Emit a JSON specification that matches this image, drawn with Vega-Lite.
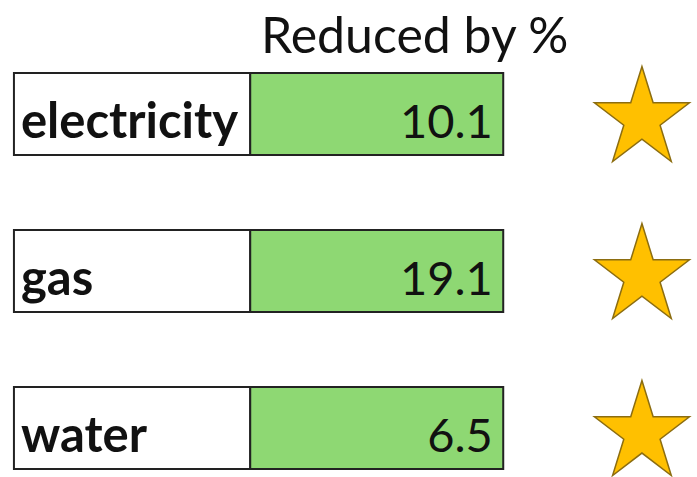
{
  "$schema": "https://vega.github.io/schema/vega-lite/v6.json",
  "width": 697,
  "height": 400,
  "padding": {"top": 12, "left": 0, "right": 0, "bottom": 0},
  "background": "white",
  "title": {"text": "Reduced by %", "fontSize": 50, "font": "Lato", "fontWeight": "normal", "anchor": "start", "dx": 261, "dy": 0, "offset": 1, "color": "#111"},
  "data": {"values": [
    {"item": "electricity", "reduced": "10.1"},
    {"item": "gas", "reduced": "19.1"},
    {"item": "water", "reduced": "6.5"}
  ]},
  "encoding": {
    "y": {"field": "item", "type": "nominal", "sort": null, "axis": null,
          "scale": {"type": "band", "paddingInner": 0.478, "paddingOuter": 0.013}}
  },
  "layer": [
    {
      "mark": {"type": "rect", "fill": "white", "stroke": "#222", "strokeWidth": 2},
      "encoding": {
        "x": {"datum": 2, "type": "quantitative", "axis": null, "scale": {"domain": [0, 100], "nice": false, "zero": false}},
        "x2": {"datum": 35.9}
      }
    },
    {
      "mark": {"type": "rect", "fill": "#8ED873", "stroke": "#222", "strokeWidth": 2},
      "encoding": {
        "x": {"datum": 35.9, "type": "quantitative"},
        "x2": {"datum": 72.2}
      }
    },
    {
      "mark": {"type": "text", "align": "left", "baseline": "alphabetic", "dy": -17, "font": "Lato", "fontSize": 49, "fontWeight": "bold", "color": "#111"},
      "encoding": {
        "x": {"datum": 3.0, "type": "quantitative"},
        "y": {"field": "item", "type": "nominal", "sort": null, "bandPosition": 1},
        "text": {"field": "item"}
      }
    },
    {
      "mark": {"type": "text", "align": "right", "baseline": "alphabetic", "dy": -17, "font": "Lato", "fontSize": 47, "fontWeight": "normal", "color": "#111"},
      "encoding": {
        "x": {"datum": 70.7, "type": "quantitative"},
        "y": {"field": "item", "type": "nominal", "sort": null, "bandPosition": 1},
        "text": {"field": "reduced"}
      }
    },
    {
      "mark": {"type": "point", "filled": true, "opacity": 1, "fill": "#FFC000", "stroke": "#8C6D10", "strokeWidth": 1.5,
               "shape": "M0,-1L0.236,-0.236L1,-0.236L0.382,0.236L0.618,1L0,0.528L-0.618,1L-0.382,0.236L-1,-0.236L-0.236,-0.236Z"},
      "encoding": {
        "x": {"datum": 92.1, "type": "quantitative"},
        "size": {"value": 9025}
      }
    }
  ],
  "config": {"view": {"stroke": null}, "font": "Lato"}
}
